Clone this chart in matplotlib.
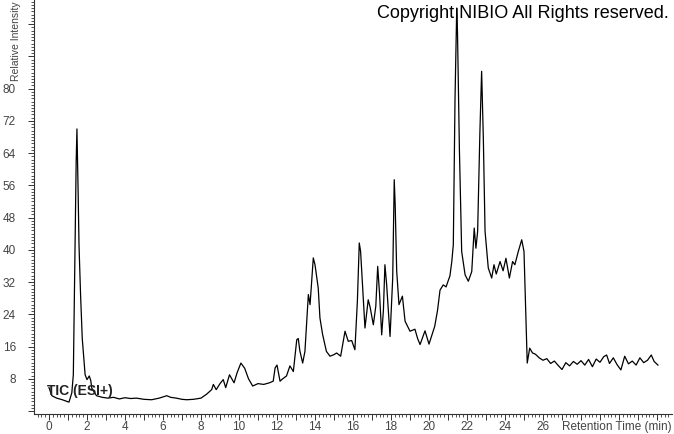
import matplotlib
matplotlib.use("Agg")
import matplotlib.pyplot as plt
import numpy as np
from matplotlib.ticker import MultipleLocator, FixedLocator

# retention time (min) and relative intensity
rt = [
    0.0, 0.15, 0.4, 0.7, 1.05, 1.2, 1.28, 1.37, 1.43, 1.47, 1.50, 1.53,
    1.58, 1.66, 1.75, 1.9, 2.0, 2.12, 2.2, 2.25, 2.5, 2.8, 3.1, 3.4, 3.7,
    4.0, 4.3, 4.6, 5.0, 5.4, 5.8, 6.0, 6.2, 6.4, 6.7, 7.0, 7.25, 7.6, 8.0,
    8.3, 8.56, 8.65, 8.8, 9.0, 9.17, 9.3, 9.5, 9.62, 9.74, 9.9, 10.1, 10.3,
    10.5, 10.72, 11.0, 11.3, 11.6, 11.8, 11.9, 12.0, 12.16, 12.3, 12.5,
    12.68, 12.86, 13.04, 13.12, 13.2, 13.35, 13.47, 13.65, 13.74, 13.91,
    14.0, 14.17, 14.26, 14.4, 14.6, 14.79, 15.0, 15.14, 15.35, 15.58, 15.75,
    15.93, 16.1, 16.23, 16.33, 16.4, 16.63, 16.8, 16.9, 17.07, 17.2, 17.3,
    17.4, 17.51, 17.6, 17.68, 17.77, 17.95, 18.09, 18.17, 18.22, 18.3,
    18.42, 18.6, 18.74, 19.0, 19.26, 19.4, 19.53, 19.79, 20.0, 20.3, 20.45,
    20.58, 20.75, 20.9, 21.0, 21.1, 21.2, 21.28, 21.37, 21.46, 21.5, 21.6,
    21.72, 21.9, 22.07, 22.25, 22.38, 22.47, 22.56, 22.68, 22.77, 22.86,
    22.95, 23.12, 23.3, 23.42, 23.54, 23.74, 23.9, 24.05, 24.23, 24.4,
    24.52, 24.7, 24.88, 25.0, 25.1, 25.17, 25.3, 25.45, 25.6, 25.8, 26.0,
    26.2, 26.4, 26.6, 26.8, 27.0, 27.2, 27.4, 27.6, 27.8, 28.0, 28.2, 28.4,
    28.6, 28.8, 29.0, 29.2, 29.35, 29.5, 29.7, 29.9, 30.1, 30.3, 30.5,
    30.7, 30.9, 31.1, 31.3, 31.5, 31.7, 31.85, 32.05,
]
intensity = [
    5.8, 3.8, 3.2, 2.8, 2.2, 4.5, 9.0, 41.0, 62.0, 70.0, 63.0, 55.0,
    41.0, 29.0, 18.0, 9.0, 7.8, 8.7, 7.5, 5.7, 3.8, 3.4, 3.2, 3.4, 3.0,
    3.3, 3.1, 3.2, 2.9, 2.8, 3.2, 3.5, 3.8, 3.4, 3.2, 2.9, 2.8, 2.9, 3.2,
    4.2, 5.3, 6.6, 5.3, 6.8, 7.8, 5.8, 9.0, 8.0, 7.0, 9.5, 11.9, 10.6,
    8.0, 6.2, 6.8, 6.6, 7.0, 7.4, 10.7, 11.4, 7.4, 8.0, 8.7,
    11.2, 9.8, 17.7, 18.0, 15.0, 11.9, 14.8, 28.9, 26.4, 38.0,
    36.3, 30.5, 23.1, 19.0, 14.8, 13.6, 14.0, 14.4, 13.6, 19.8, 17.3,
    17.5, 15.2, 27.2, 41.7, 39.6, 20.6, 27.6, 25.8, 21.4, 26.0, 35.9,
    28.9, 18.9, 25.0, 36.3, 31.4, 18.5, 33.0, 57.4, 51.2, 34.7,
    26.4, 28.5, 22.3, 19.8, 20.3, 18.0, 16.5, 19.9, 16.6, 21.0, 25.0,
    30.0, 31.3, 30.8, 32.2, 33.5, 37.1, 41.3, 77.7, 100.0, 94.0, 65.0,
    39.6, 33.8, 32.2, 34.6, 45.4, 40.4, 44.6, 69.4, 84.3, 67.7,
    44.6, 35.5, 33.0, 36.3, 34.0, 37.1, 34.8, 37.9, 33.0, 37.1,
    36.3, 39.6, 42.5, 39.6, 23.1, 11.9, 15.6, 14.4, 14.1, 13.2, 12.6,
    13.0, 11.8, 12.4, 11.3, 10.3, 12.0, 11.2, 12.3, 11.6, 12.5, 11.4, 12.8,
    11.0, 12.9, 12.1, 13.5, 13.9, 11.8, 13.2, 11.5, 10.2, 13.6, 11.7,
    12.4, 11.4, 13.2, 12.0, 12.6, 13.9, 12.3, 11.4,
]

x_labeled = list(range(0, 27, 2))
y_labeled = list(range(8, 81, 8))

W, H = 674, 434
FONT = "Liberation Sans"


def main() -> None:
    fig = plt.figure(figsize=(W / 100, H / 100), dpi=100)
    ax = fig.add_axes([34 / W, 20 / H, (672 - 34) / W, (H - 20) / H])

    ax.plot(rt, intensity, color="black", lw=0.9)

    ax.set_xlim(-0.79, 32.79)
    ax.set_ylim(-0.74, 102.0)

    for side in ("top", "right"):
        ax.spines[side].set_visible(False)
    for side in ("left", "bottom"):
        ax.spines[side].set_color("#333333")
        ax.spines[side].set_linewidth(0.8)

    ax.xaxis.set_major_locator(FixedLocator(range(0, 33)))
    ax.set_xticklabels([str(v) if v in x_labeled else "" for v in range(0, 33)])
    ax.xaxis.set_minor_locator(MultipleLocator(0.2))
    ax.yaxis.set_major_locator(FixedLocator(range(0, 103, 8)))
    ax.set_yticklabels([str(v) if v in y_labeled else "" for v in range(0, 103, 8)])
    ax.yaxis.set_minor_locator(MultipleLocator(0.8))

    ax.tick_params(axis="both", which="major", length=4, width=0.7,
                   color="#333333", labelcolor="#444444", labelsize=8.5)
    ax.tick_params(axis="both", which="minor", length=2.5, width=0.6,
                   color="#333333")
    ax.tick_params(axis="x", pad=1)
    ax.tick_params(axis="y", pad=9)
    for lab in ax.get_xticklabels() + ax.get_yticklabels():
        lab.set_fontfamily(FONT)

    fig.text(16 / W, (H - 1) / H, "Relative Intensity", rotation=90,
             ha="center", va="top", fontsize=7.5, color="#444444",
             family=FONT)
    fig.text(672 / W, 1 / H, "Retention Time (min)", ha="right",
             va="bottom", fontsize=8.5, color="#444444", family=FONT)

    fig.text(377 / W, (H - 14) / H, "Copyright NIBIO All Rights reserved.",
             ha="left", va="center", fontsize=13, color="black", family=FONT)
    ax.text(-0.1, 4.9, "TIC (ESI+)", ha="left", va="center",
            fontsize=10, color="#222222", family=FONT, fontweight="bold")

    fig.savefig("out.png", dpi=100)


if __name__ == "__main__":
    main()
